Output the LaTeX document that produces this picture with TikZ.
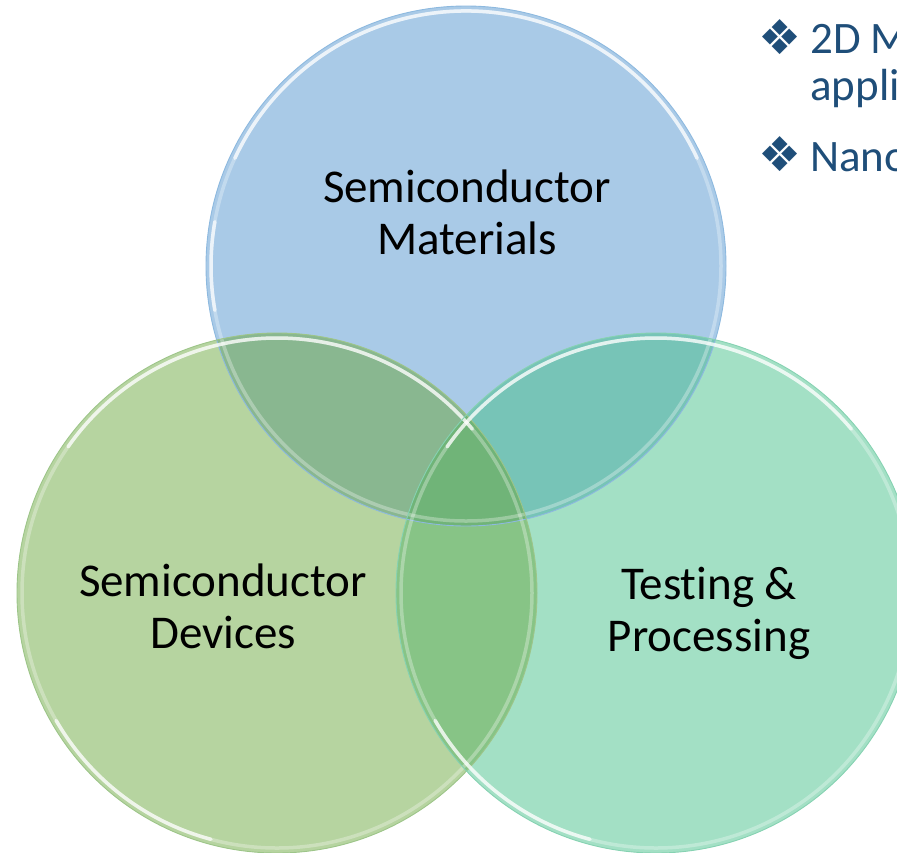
\documentclass[tikz,border=0pt]{standalone}
\usepackage{fontspec}
\setmainfont[Ligatures={NoCommon}]{Carlito}
\newfontfamily\symfont{DejaVu Sans}
\definecolor{cB}{HTML}{A9CAE7}
\definecolor{cL}{HTML}{B6D4A0}
\definecolor{cR}{HTML}{A3E0C5}
\definecolor{cBL}{HTML}{89B790}
\definecolor{cBR}{HTML}{77C4B7}
\definecolor{cLR}{HTML}{87C486}
\definecolor{cBLR}{HTML}{70B478}
\definecolor{oB}{HTML}{8DB9DF}
\definecolor{oL}{HTML}{9DC589}
\definecolor{oR}{HTML}{86D2B2}
\definecolor{txtblue}{HTML}{1F4E79}
\tikzset{
  label/.style={font=\fontsize{47}{52}\selectfont, text=black, align=center, inner sep=0pt},
  bullettext/.style={font=\fontsize{45}{50}\selectfont, text=txtblue, anchor=base west, inner sep=0pt},
  bulletsym/.style={font=\symfont\fontsize{48}{50}\selectfont, text=txtblue, inner sep=0pt},
  rim/.style={line width=0.9pt},
  glow/.style={line width=3.5pt, white, opacity=0.3},
  shine/.style={line width=3.5pt, white, opacity=0.7, line cap=round}
}
\begin{document}
\begin{tikzpicture}[x=1pt,y=-1pt]
\useasboundingbox (0,0) rectangle (897,852);
\clip (0,0) rectangle (897,852);
\def\rr{260}
% base fills
\fill[cB] (466,266) circle (\rr);
\fill[cL] (277,593) circle (\rr);
\fill[cR] (656,593) circle (\rr);
\begin{scope}
  \clip (466,266) circle (\rr);
  \fill[cBL] (277,593) circle (\rr);
  \fill[cBR] (656,593) circle (\rr);
\end{scope}
\begin{scope}
  \clip (277,593) circle (\rr);
  \fill[cLR] (656,593) circle (\rr);
  \clip (466,266) circle (\rr);
  \fill[cBLR] (656,593) circle (\rr);
\end{scope}
% rims and highlights
\draw[rim, oB] (466,266) circle (\rr);
\draw[glow] (466,266) circle (255);
\draw[shine] (466,266) ++(205:255) arc[start angle=205, end angle=335, radius=255];
\draw[shine] (466,266) ++(170:255) arc[start angle=170, end angle=190, radius=255];
\draw[rim, oL] (277,593) circle (\rr);
\draw[glow] (277,593) circle (255);
\draw[shine] (277,593) ++(215:255) arc[start angle=215, end angle=320, radius=255];
\draw[shine] (277,593) ++(105:255) arc[start angle=105, end angle=150, radius=255];
\draw[rim, oR] (656,593) circle (\rr);
\draw[glow] (656,593) circle (255);
\draw[shine] (656,593) ++(215:255) arc[start angle=215, end angle=320, radius=255];
\draw[shine] (656,593) ++(105:255) arc[start angle=105, end angle=150, radius=255];
% labels
\node[label] (mat) at (467,212) {Semiconductor\\Materials};
\node[label] (dev) at (223,606) {Semiconductor\\Devices};
\node[label] (tst) at (709,613) {Testing \&\\Processing};
% bullets top right
\node[bulletsym] (b1) at (780,37) {❖};
\node[bullettext] (t1) at (810,53) {2D M};
\node[bullettext] (t2) at (810,100) {appli};
\node[bulletsym] (b2) at (780,154) {❖};
\node[bullettext] (t3) at (810,171) {Nano};
\end{tikzpicture}
\end{document}
